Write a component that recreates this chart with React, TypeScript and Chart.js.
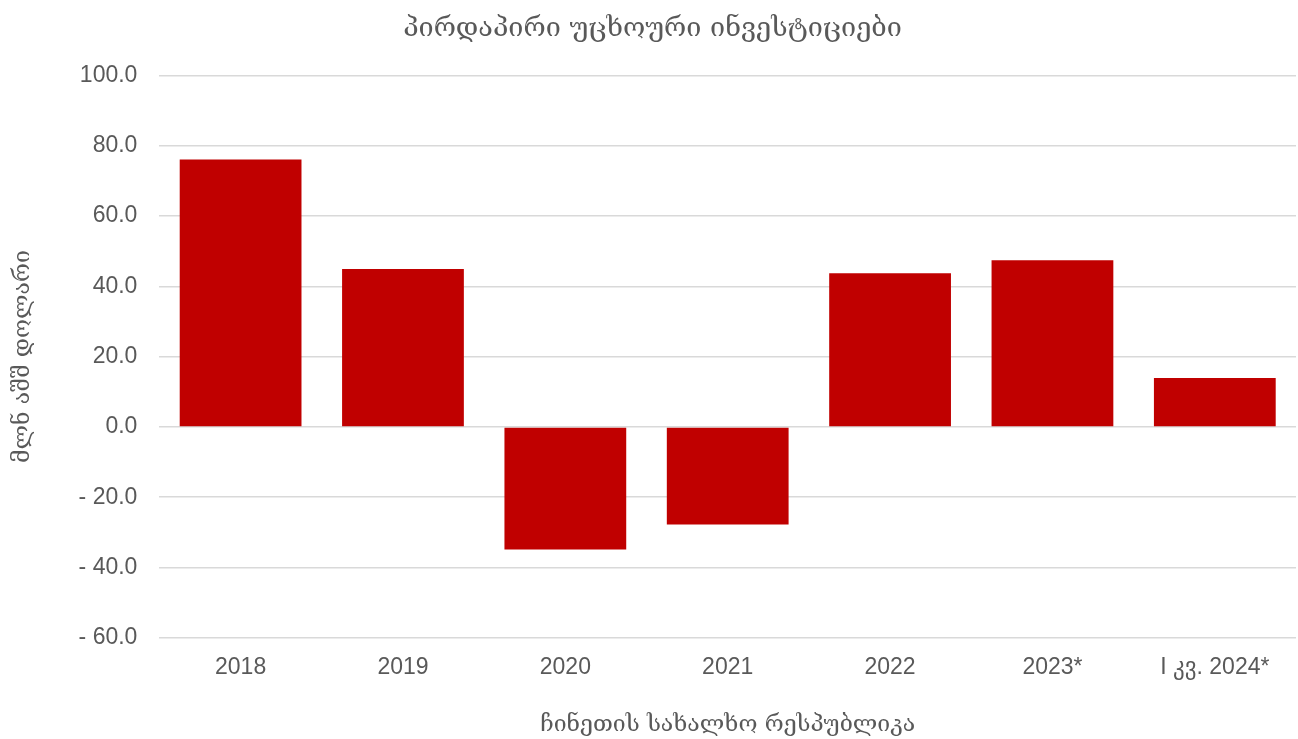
import React, { useEffect, useRef } from "react";
import { Chart, registerables } from "chart.js";

Chart.register(...registerables);

const categories = ["2018", "2019", "2020", "2021", "2022", "2023*", "I კვ. 2024*"];
const fdiValues = [76.1, 44.9, -34.9, -27.8, 43.7, 47.4, 13.9];
const yTicks = [-60, -40, -20, 0, 20, 40, 60, 80, 100];

const titleText = "პირდაპირი უცხოური ინვესტიციები";
const xTitle = "ჩინეთის სახალხო რესპუბლიკა";
const yTitle = "მლნ აშშ დოლარი";

const FONT = "'Liberation Sans', Arial, 'DejaVu Sans', sans-serif";
const GEO = "'DejaVu Serif', 'DejaVu Sans', serif";

export default function App() {
  const ref = useRef<HTMLCanvasElement | null>(null);
  useEffect(() => {
    if (!ref.current) return;
    const chart = new Chart(ref.current, {
      type: "bar",
      data: {
        labels: categories,
        datasets: [
          {
            data: fdiValues,
            backgroundColor: "#C00000",
            barPercentage: 0.75,
            categoryPercentage: 1.0,
          },
        ],
      },
      options: {
        animation: false,
        responsive: false,
        maintainAspectRatio: false,
        layout: { padding: { left: 9, right: 2, top: 2, bottom: 0 } },
        plugins: {
          legend: { display: false },
          tooltip: { enabled: false },
          title: {
            display: true,
            text: titleText,
            color: "#595959",
            font: { family: GEO, size: 27, weight: "normal" },
            padding: { top: 11, bottom: 30 },
          },
        },
        scales: {
          x: {
            grid: { display: false },
            border: { display: false },
            ticks: {
              color: "#595959",
              font: { family: FONT, size: 23 },
              padding: 8,
              maxRotation: 0,
            },
            title: {
              display: true,
              text: xTitle,
              color: "#595959",
              font: { family: GEO, size: 23 },
              padding: { top: 22, bottom: 0 },
            },
          },
          y: {
            min: -60,
            max: 100,
            afterBuildTicks: (axis: any) => {
              axis.ticks = yTicks.map((v) => ({ value: v }));
            },
            grid: { color: "#D9D9D9", lineWidth: 1.5, drawTicks: false },
            border: { display: false },
            ticks: {
              color: "#595959",
              font: { family: FONT, size: 23 },
              padding: 22,
              callback: (v: any) => {
                const n = Number(v);
                return n < 0 ? "- " + Math.abs(n).toFixed(1) : n.toFixed(1);
              },
            },
            title: {
              display: true,
              text: yTitle,
              color: "#595959",
              font: { family: GEO, size: 23 },
              padding: { top: 0, bottom: 20 },
            },
          },
        },
      },
    });
    return () => chart.destroy();
  }, []);
  return (
    <div style={{ position: "absolute", left: 0, top: 0, width: 1298, height: 739, background: "#fff" }}>
      <canvas ref={ref} width={1298} height={739} style={{ display: "block" }} />
    </div>
  );
}
